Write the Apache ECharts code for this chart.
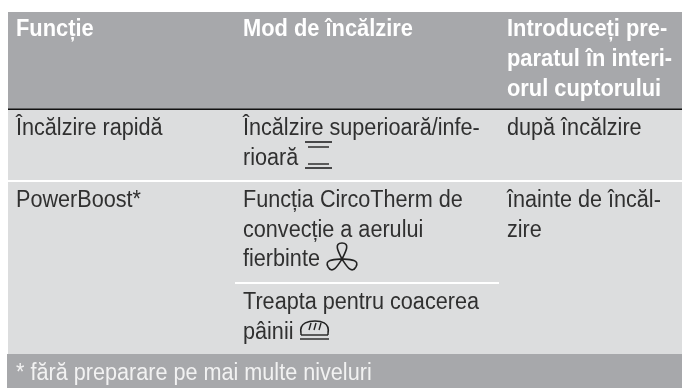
<!DOCTYPE html>
<html><head><meta charset="utf-8">
<style>html,body{margin:0;padding:0;background:#fff}#c{width:682px;height:388px}</style>
<script src="https://cdn.jsdelivr.net/npm/echarts@6/dist/echarts.min.js"></script>
</head><body><div id="c"></div>
<script>
const headerCells = [
  ["Funcție"],
  ["Mod de încălzire"],
  ["Introduceți pre-", "paratul în interi-", "orul cuptorului"]
];
const rowFunction = [["Încălzire rapidă"], ["PowerBoost*"]];
const rowMode = [
  ["Încălzire superioară/infe-", "rioară"],
  ["Funcția CircoTherm de", "convecție a aerului", "fierbinte"],
  ["Treapta pentru coacerea", "pâinii"]
];
const rowInsert = [["după încălzire"], ["înainte de încăl-", "zire"]];
const footnote = "* fără preparare pe mai multe niveluri";

const FONT = '"Liberation Sans",Arial,sans-serif';
const colX = [16, 243, 507];
const LH = 29.8;
const ASC = 18;
const g = [];
function rect(x,y,w,h,fill){g.push({type:'rect',shape:{x,y,width:w,height:h},style:{fill},silent:true});}
function text(lines,x,y,opt){lines.forEach((t,i)=>g.push({type:'text',x,y:y-ASC+i*LH,scaleX:opt.sx||0.94,style:{text:t,font:`${opt.w||'normal'} 23px ${FONT}`,fill:opt.c},silent:true}));}
function seg(x1,y1,x2,y2,lw){g.push({type:'line',shape:{x1,y1,x2,y2},style:{stroke:'#222',lineWidth:lw||1.5},silent:true});}
function curve(p,lw){g.push({type:'bezierCurve',shape:{x1:p[0],y1:p[1],cpx1:p[2],cpy1:p[3],cpx2:p[4],cpy2:p[5],x2:p[6],y2:p[7]},style:{stroke:'#222',lineWidth:lw||1.6,fill:'none'},silent:true});}

rect(8,12,674,97,'#a7a8ab');
rect(8,110,674,70,'#dcddde');
rect(8,182,674,172,'#dcddde');
rect(7,354,675,34,'#a7a8ab');
rect(8,108.5,674,1.5,'#111');
rect(235,282,264,2,'#fff');

const W='#fff',K='#303030';
text(headerCells[0],colX[0],36.5,{w:'bold',c:W,sx:0.95});
text(headerCells[1],colX[1],36.5,{w:'bold',c:W,sx:0.95});
text(headerCells[2],colX[2],36.5,{w:'bold',c:W,sx:0.95});
text(rowFunction[0],colX[0],135,{c:K});
text(rowFunction[1],colX[0],207,{c:K});
text(rowMode[0],colX[1],135,{c:K});
text(rowMode[1],colX[1],207,{c:K});
text(rowMode[2],colX[1],309,{c:K});
text(rowInsert[0],colX[2],135,{c:K});
text(rowInsert[1],colX[2],207,{c:K});
text([footnote],colX[0],380.5,{c:'#f2f2f2'});

// heat icon
seg(305,142,332,142,1.6); seg(308,147,329,147,1.4); seg(308,164,329,164,1.4); seg(305,168,332,168,1.6);
// fan icon
const cx=342,cy=259;
[0,120,240].forEach(a=>{
  const r=a*Math.PI/180;
  const R=(x,y)=>[cx+x*Math.cos(r)-y*Math.sin(r),cy+x*Math.sin(r)+y*Math.cos(r)];
  curve([...R(0,0),...R(-3,-6),...R(-9,-16),...R(0,-16)]);
  curve([...R(0,0),...R(3,-6),...R(9,-16),...R(0,-16)]);
});
// bread icon
curve([301,333,299,322,310,321,315,321]);
curve([328,333,330,322,320,321,315,321]);
seg(301,333,301,335,1.4); seg(328,333,328,335,1.4); seg(301,335,328,335,1.4);
seg(309,330,311,323,1.4); seg(314,330,316,323,1.4); seg(319,330,321,323,1.4);
seg(300,339,329,339,1.4);

const chart = echarts.init(document.getElementById('c'),null,{renderer:'canvas'});
chart.setOption({animation:false,graphic:{elements:g}});
</script></body></html>
